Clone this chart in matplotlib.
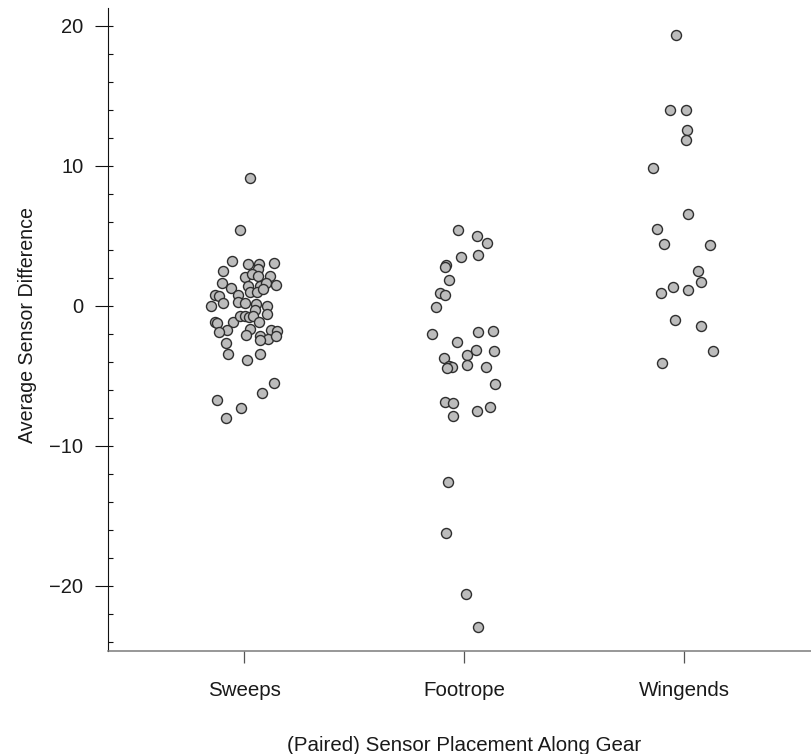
import numpy as np
import matplotlib.pyplot as plt
from matplotlib.ticker import MultipleLocator

plt.rcParams['font.family'] = ['Liberation Sans', 'DejaVu Sans']

categories = ['Sweeps', 'Footrope', 'Wingends']

# average sensor difference per paired placement
sweeps = [9.12, 5.38, 3.21, 2.52, 2.98, 2.98, 3.05, 2.62, 2.05, 2.26, 2.14, 2.14,
          1.62, 1.26, 1.43, 1.38, 1.62, 1.50, 1.02, 1.02, 1.19, 0.79, 0.71, 0.79,
          0.02, 0.19, 0.24, 0.19, 0.14, 0.02, -0.29, -0.57, -1.12, -1.24, -1.19,
          -0.71, -0.76, -0.81, -0.71, -1.12, -1.71, -1.90, -1.67, -2.07, -2.19,
          -1.71, -1.83, -2.36, -2.19, -2.43, -2.67, -3.45, -3.86, -3.45, -5.48,
          -6.19, -6.71, -7.33, -7.98]
footrope = [5.43, 4.95, 4.48, 3.45, 3.60, 2.88, 2.74, 1.86, 0.90, 0.74, -0.12,
            -2.00, -2.60, -1.88, -1.83, -3.69, -3.50, -3.14, -3.26, -4.33, -4.40,
            -4.45, -4.21, -4.38, -5.60, -6.88, -6.95, -7.86, -7.50, -7.19, -12.6,
            -16.2, -20.6, -22.95]
wingends = [19.36, 14.0, 14.0, 12.57, 11.81, 9.83, 6.55, 5.50, 4.40, 4.31, 2.50,
            1.69, 1.31, 1.14, 0.90, -1.00, -1.43, -3.21, -4.10]

# horizontal jitter (category units) used for each point
sweeps_jit = [0.027, -0.018, -0.056, -0.094, 0.020, 0.070, 0.138, 0.065, 0.005,
              0.038, 0.065, 0.118, -0.099, -0.060, 0.020, 0.073, 0.100, 0.145,
              0.027, 0.058, 0.088, -0.132, -0.112, -0.026, -0.151, -0.097, -0.026,
              0.005, 0.055, 0.106, 0.050, 0.103, -0.132, -0.121, -0.049, -0.018,
              0.005, 0.024, 0.042, 0.068, -0.076, -0.112, 0.027, 0.009, 0.073,
              0.123, 0.151, 0.110, 0.145, 0.073, -0.083, -0.071, 0.015, 0.073,
              0.138, 0.080, -0.121, -0.014, -0.082]
footrope_jit = [-0.026, 0.058, 0.103, -0.014, 0.062, -0.082, -0.086, -0.068, -0.109,
                -0.086, -0.127, -0.147, -0.033, 0.062, 0.130, -0.091, 0.015, 0.055,
                0.138, -0.068, -0.053, -0.076, 0.015, 0.099, 0.141, -0.086, -0.051,
                -0.049, 0.060, 0.118, -0.071, -0.083, 0.009, 0.062]
wingends_jit = [-0.038, -0.064, 0.008, 0.015, 0.009, -0.140, 0.020, -0.124, -0.091,
                0.118, 0.062, 0.076, -0.049, 0.020, -0.106, -0.041, 0.076, 0.130,
                -0.101]

groups = [(sweeps, sweeps_jit), (footrope, footrope_jit), (wingends, wingends_jit)]

fig = plt.figure(figsize=(8.11, 7.54), dpi=100)
ax = fig.add_axes([0.1326, 0.137, 0.8674, 0.8524])

for i, (vals, jit) in enumerate(groups):
    x = (i + 1) + np.array(jit)
    ax.scatter(x, vals, s=52, facecolor='#bcbcbc', edgecolor='#2e2e2e',
               linewidth=1.0, zorder=3)

ax.set_xlim(0.3795, 3.577)
ax.set_ylim(-24.62, 21.26)

ax.spines['top'].set_visible(False)
ax.spines['right'].set_visible(False)
ax.spines['left'].set_color('#111111')
ax.spines['left'].set_linewidth(0.8)
ax.spines['bottom'].set_color('#7a7a7a')
ax.spines['bottom'].set_linewidth(1.1)

ax.set_xticks([1, 2, 3])
ax.set_xticklabels(categories)
ax.tick_params(axis='x', length=8.6, width=0.9, color='#555555', pad=13,
               labelsize=14.8, labelcolor='#1a1a1a')

ax.yaxis.set_major_locator(MultipleLocator(10))
ax.yaxis.set_minor_locator(MultipleLocator(2))
ax.yaxis.remove_overlapping_locs = False
ax.tick_params(axis='y', which='major', direction='out', length=9.4, width=0.8,
               color='#111111', pad=8, labelsize=14.5, labelcolor='#1a1a1a')
ax.tick_params(axis='y', which='minor', direction='in', length=3.6, width=0.8,
               color='#111111')
ax.set_yticklabels([f'{int(t)}'.replace('-', '\u2212') for t in ax.get_yticks()])

ax.set_ylabel('Average Sensor Difference', fontsize=14.1, color='#1a1a1a')
ax.yaxis.set_label_coords(-0.1009, 0.507)
ax.set_xlabel('(Paired) Sensor Placement Along Gear', fontsize=14.8, color='#1a1a1a')
ax.xaxis.set_label_coords(0.5075, -0.1327)

fig.savefig('out.png', dpi=100)
